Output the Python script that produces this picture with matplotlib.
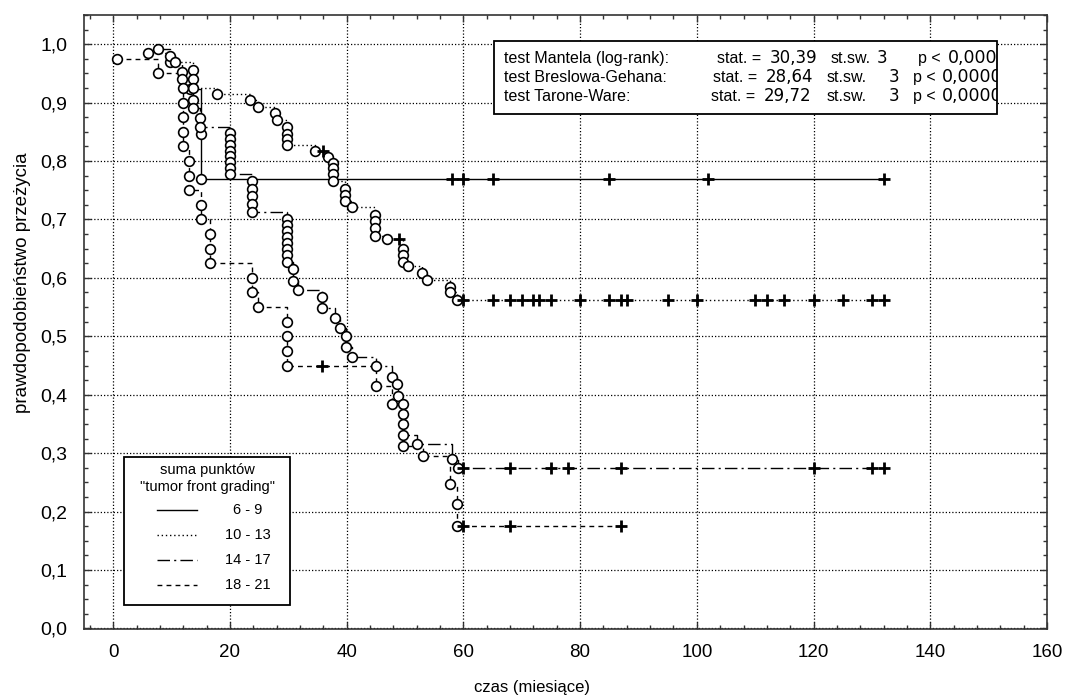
import numpy as np
import matplotlib
matplotlib.use("Agg")
import matplotlib.pyplot as plt
from matplotlib.patches import Rectangle
from matplotlib.ticker import MultipleLocator, FuncFormatter

plt.rcParams['font.family'] = ['Liberation Sans', 'DejaVu Sans']

# grupa 6 - 9
g1_event_t = [13.2, 15, 15]
g1_event_s = [0.923, 0.846, 0.769]
g1_cens_t = [58, 60, 65, 85, 102, 132]

# grupa 10 - 13
g2_event_t = [6, 9.8, 13.7, 13.7, 13.7, 17.8, 23.5, 24.8, 27.7, 28, 29.8, 29.8, 29.8, 29.8,
              34.6, 36.8, 37.7, 37.7, 37.7, 37.7, 39.7, 39.7, 39.7, 40.9, 44.9, 44.9, 44.9, 44.9,
              46.9, 49.7, 49.7, 49.7, 50.5, 52.9, 53.8, 57.7, 57.7, 58.9]
g2_event_s = [0.985, 0.97, 0.956, 0.94, 0.925, 0.915, 0.905, 0.893, 0.883, 0.87, 0.858, 0.847, 0.837, 0.828,
              0.818, 0.807, 0.797, 0.788, 0.777, 0.765, 0.752, 0.742, 0.732, 0.722, 0.708, 0.697, 0.685, 0.672,
              0.666, 0.65, 0.64, 0.628, 0.62, 0.608, 0.597, 0.585, 0.575, 0.563]
g2_cens_t = [36, 49, 60, 65, 68, 70, 72, 73, 75, 80, 85, 87, 88, 95, 100, 110, 112, 115, 120, 125, 130, 132]

# grupa 14 - 17
g3_event_t = [7.7, 9.8, 10.6, 11.8, 11.8, 13.7, 13.7, 14.9, 14.9,
              20, 20, 20, 20, 20, 20, 20, 20,
              23.8, 23.8, 23.8, 23.8, 23.8,
              29.8, 29.8, 29.8, 29.8, 29.8, 29.8, 29.8, 29.8,
              30.8, 30.8, 31.7, 35.8, 35.8, 38, 38.9, 39.9, 39.9, 40.9,
              45, 47.8, 48.6, 48.8, 49.7, 49.7, 49.7, 49.7, 52, 58, 59]
g3_event_s = [0.992, 0.98, 0.97, 0.953, 0.94, 0.905, 0.891, 0.874, 0.859,
              0.848, 0.838, 0.828, 0.818, 0.808, 0.798, 0.788, 0.778,
              0.765, 0.752, 0.74, 0.727, 0.712,
              0.70, 0.69, 0.68, 0.67, 0.66, 0.65, 0.64, 0.627,
              0.615, 0.594, 0.58, 0.567, 0.548, 0.531, 0.515, 0.50, 0.481, 0.464,
              0.449, 0.431, 0.418, 0.397, 0.384, 0.367, 0.35, 0.331, 0.315, 0.29, 0.275]
g3_cens_t = [60, 68, 75, 78, 87, 120, 130, 132]

# grupa 18 - 21
g4_event_t = [0.7, 7.7, 12, 12, 12, 12, 12, 13, 13, 13, 15, 15, 16.6, 16.6, 16.6,
              23.8, 23.8, 24.8, 29.8, 29.8, 29.8, 29.8, 45, 47.8, 49.7, 53, 57.7, 58.9, 58.9]
g4_event_s = [0.975, 0.95, 0.925, 0.90, 0.875, 0.85, 0.825, 0.80, 0.775, 0.75, 0.725, 0.70,
              0.675, 0.65, 0.625, 0.60, 0.575, 0.55, 0.525, 0.50, 0.475, 0.45, 0.415, 0.384,
              0.312, 0.295, 0.247, 0.213, 0.175]
g4_cens_t = [35.8, 60, 68, 87]

group_labels = ["6 - 9", "10 - 13", "14 - 17", "18 - 21"]
legend_title = ["suma punktów", '"tumor front grading"']

stats_names = ["test Mantela (log-rank):", "test Breslowa-Gehana:", "test Tarone-Ware:"]
stats_values = ["30,39", "28,64", "29,72"]
stats_df = ["3", "3", "3"]
stats_p = ["0,0000", "0,0000", "0,0000"]

styles = ['-', (0, (1, 2)), (0, (9, 3, 1.5, 3)), (0, (3.5, 3))]
groups = [
    (g1_event_t, g1_event_s, g1_cens_t),
    (g2_event_t, g2_event_s, g2_cens_t),
    (g3_event_t, g3_event_s, g3_cens_t),
    (g4_event_t, g4_event_s, g4_cens_t),
]

fig = plt.figure(figsize=(10.66, 6.96), dpi=100)
ax = fig.add_axes([84 / 1066, 1 - 629 / 696, 963 / 1066, 614 / 696])


def fx(px):
    return (px - 84) / 963


def fy(py):
    return (629 - py) / 614


for (et, es, ct), ls in zip(groups, styles):
    et = np.asarray(et)
    es = np.asarray(es)
    ct = np.asarray(ct)
    # krzywa zaczyna sie od pierwszego zdarzenia
    xs = np.concatenate([et, [ct.max()]])
    ys = np.concatenate([es, [es[-1]]])
    ax.plot(xs, ys, drawstyle='steps-post', color='black', lw=1.0, linestyle=ls, zorder=3)
    ax.plot(et, es, 'o', ms=7, mfc='white', mec='black', mew=1.2, zorder=4)
    idx = np.searchsorted(et, ct, side='right') - 1
    cy = np.where(idx >= 0, es[np.clip(idx, 0, None)], 1.0)
    ax.plot(ct, cy, '+', ms=9, mec='black', mew=2.0, zorder=5)

ax.set_xlim(-5, 160)
ax.set_ylim(-0.001, 1.05)
ax.xaxis.set_major_locator(MultipleLocator(20))
ax.xaxis.set_minor_locator(MultipleLocator(4))
ax.yaxis.set_major_locator(MultipleLocator(0.1))
ax.yaxis.set_minor_locator(MultipleLocator(0.025))
ax.yaxis.set_major_formatter(FuncFormatter(lambda v, p: f"{v:.1f}".replace('.', ',')))
ax.set_xticks(np.arange(0, 161, 20))
ax.tick_params(which='both', direction='in', top=True, right=True, color='#333333')
ax.tick_params(which='major', length=5, width=1)
ax.tick_params(which='minor', length=3, width=1)
ax.tick_params(axis='x', which='major', pad=11, labelsize=13.5)
ax.tick_params(axis='y', which='major', pad=12, labelsize=14)
ax.grid(True, which='major', color='black', linestyle=(0, (1, 1.6)), linewidth=0.9, zorder=0)
ax.set_axisbelow(True)
for sp in ax.spines.values():
    sp.set_linewidth(1.2)
    sp.set_color('#333333')

ax.set_xlabel("czas (miesiące)", fontsize=12)
ax.xaxis.set_label_coords(fx(532), fy(680))
ax.set_ylabel("prawdopodobieństwo przeżycia", fontsize=13.5)
ax.yaxis.set_label_coords(fx(31), fy(283))

# ramka z testami (tekst przyciety do ramki jak w oryginale)
box = Rectangle((fx(494), fy(114)), fx(997) - fx(494), fy(41) - fy(114), transform=ax.transAxes,
                facecolor='white', edgecolor='black', lw=1.3, zorder=6)
ax.add_patch(box)
base_y = [63, 82, 101]
stat_x = [717, 713, 711]
num_x = [770, 766, 764]
sw_x = [831, 827, 827]
df_x = [877, 889, 889]
p_x = [918, 913, 913]
pn_x = [948, 942, 942]
for i in range(3):
    pieces = [(stats_names[i], 504, 'Liberation Sans', 11.5),
              ("stat. =", stat_x[i], 'Liberation Sans', 11.5),
              (stats_values[i], num_x[i], 'DejaVu Sans', 12),
              ("st.sw.", sw_x[i], 'Liberation Sans', 11.5),
              (stats_df[i], df_x[i], 'DejaVu Sans', 12),
              ("p <", p_x[i], 'Liberation Sans', 11.5),
              (stats_p[i], pn_x[i], 'DejaVu Sans', 12.5)]
    for txt, px, fam, fs in pieces:
        t = ax.text(fx(px), fy(base_y[i]), txt, transform=ax.transAxes, fontsize=fs,
                    family=fam, ha='left', va='baseline', zorder=7, clip_on=True)
        t.set_clip_path(box)

# legenda rysowana recznie
leg_box = Rectangle((fx(124), fy(605)), fx(290) - fx(124), fy(457) - fy(605), transform=ax.transAxes,
                    facecolor='white', edgecolor='black', lw=1.3, zorder=6)
ax.add_patch(leg_box)
for j, line in enumerate(legend_title):
    ax.text(fx(207), fy(470 + 17 * j), line, transform=ax.transAxes, fontsize=10.5,
            ha='center', va='center', zorder=7)
for j, (lab, ls) in enumerate(zip(group_labels, styles)):
    yy = fy(510 + 25 * j)
    ax.plot([fx(157), fx(197)], [yy, yy], transform=ax.transAxes, color='black', lw=1.0,
            linestyle=ls, zorder=7, clip_on=False)
    ax.text(fx(248), yy, lab, transform=ax.transAxes, fontsize=10.5, ha='center', va='center', zorder=7)

fig.savefig("out.png", dpi=100)
